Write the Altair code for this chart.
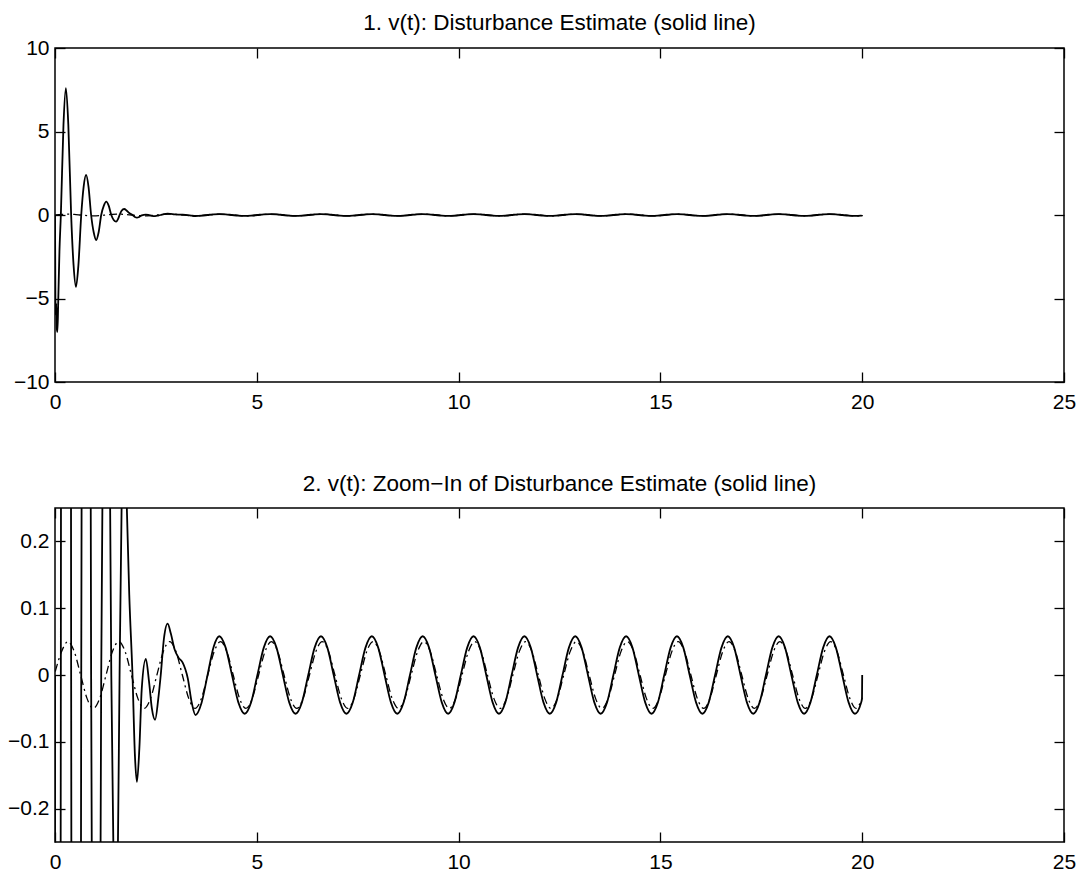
import altair as alt
import pandas as pd

# ---------------- data ----------------
top_title = "1. v(t): Disturbance Estimate (solid line)"
bottom_title = "2. v(t): Zoom\u2212In of Disturbance Estimate (solid line)"

x_ticks = [0, 5, 10, 15, 20, 25]
top_y_ticks = [-10, -5, 0, 5, 10]
bottom_y_ticks = [-0.2, -0.1, 0, 0.1, 0.2]
top_y_domain = [-10, 10]
bottom_y_domain = [-0.25, 0.25]
x_domain = [0, 25]

# solid line: disturbance estimate v(t)
solid_t = [
    0.000, 0.010, 0.020, 0.030, 0.045, 0.060, 0.080, 0.110, 0.145,
    0.210, 0.270, 0.330, 0.400, 0.460, 0.520, 0.580, 0.650,
    0.710, 0.770, 0.830, 0.895, 0.960, 1.020, 1.080, 1.145,
    1.210, 1.270, 1.330, 1.395, 1.455, 1.515, 1.560, 1.600,
    1.650, 1.715, 1.780, 1.840, 1.920, 1.980, 2.030, 2.090,
    2.150, 2.250, 2.330, 2.400, 2.480, 2.560, 2.620, 2.700,
    2.790, 2.870, 2.960, 3.060, 3.160, 3.290, 3.390, 3.480,
    3.630, 3.780, 3.930,
    4.070, 4.228, 4.385, 4.543, 4.700, 4.858, 5.015, 5.173,
    5.330, 5.488, 5.645, 5.803, 5.960, 6.118, 6.275, 6.433,
    6.590, 6.748, 6.905, 7.063, 7.220, 7.378, 7.535, 7.693,
    7.850, 8.008, 8.165, 8.323, 8.480, 8.638, 8.795, 8.953,
    9.110, 9.268, 9.425, 9.583, 9.740, 9.898, 10.055, 10.213,
    10.370, 10.528, 10.685, 10.843, 11.000, 11.158, 11.315, 11.473,
    11.630, 11.788, 11.945, 12.103, 12.260, 12.418, 12.575, 12.733,
    12.890, 13.048, 13.205, 13.363, 13.520, 13.678, 13.835, 13.993,
    14.150, 14.308, 14.465, 14.623, 14.780, 14.938, 15.095, 15.253,
    15.410, 15.568, 15.725, 15.883, 16.040, 16.198, 16.355, 16.513,
    16.670, 16.828, 16.985, 17.143, 17.300, 17.458, 17.615, 17.773,
    17.930, 18.088, 18.245, 18.403, 18.560, 18.718, 18.875, 19.033,
    19.190, 19.348, 19.505, 19.663, 19.820, 19.970, 19.995, 20.000,
]
solid_v = [
    0.0, -5.0, -6.0, -5.3, -6.8, -7.0, -5.2, -2.2, 0.0,
    5.4, 7.6, 5.4, 0.0, -3.0, -4.3, -3.0, 0.0,
    1.7, 2.4, 1.7, 0.0, -1.05, -1.5, -1.05, 0.0,
    0.56, 0.8, 0.56, 0.0, -0.30, -0.40, -0.25, 0.0,
    0.25, 0.36, 0.25, 0.12, 0.0, -0.12, -0.16, -0.11,
    -0.02, 0.024, -0.01, -0.05, -0.067, -0.035, 0.0, 0.055,
    0.077, 0.062, 0.039, 0.026, 0.019, -0.005, -0.042, -0.060,
    -0.042, 0.0, 0.042,
    0.058, 0.041, 0.0, -0.041, -0.058, -0.041, 0.0, 0.041,
    0.058, 0.041, 0.0, -0.041, -0.058, -0.041, 0.0, 0.041,
    0.058, 0.041, 0.0, -0.041, -0.058, -0.041, 0.0, 0.041,
    0.058, 0.041, 0.0, -0.041, -0.058, -0.041, 0.0, 0.041,
    0.058, 0.041, 0.0, -0.041, -0.058, -0.041, 0.0, 0.041,
    0.058, 0.041, 0.0, -0.041, -0.058, -0.041, 0.0, 0.041,
    0.058, 0.041, 0.0, -0.041, -0.058, -0.041, 0.0, 0.041,
    0.058, 0.041, 0.0, -0.041, -0.058, -0.041, 0.0, 0.041,
    0.058, 0.041, 0.0, -0.041, -0.058, -0.041, 0.0, 0.041,
    0.058, 0.041, 0.0, -0.041, -0.058, -0.041, 0.0, 0.041,
    0.058, 0.041, 0.0, -0.041, -0.058, -0.041, 0.0, 0.041,
    0.058, 0.041, 0.0, -0.041, -0.058, -0.041, 0.0, 0.041,
    0.058, 0.041, 0.0, -0.041, -0.058, -0.042, -0.035, 0.0,
]

# dash-dot line: actual disturbance
dash_t = [
    0.005, 0.163, 0.320, 0.478, 0.635, 0.793, 0.950, 1.108,
    1.265, 1.423, 1.580, 1.738, 1.895, 2.053, 2.210, 2.368,
    2.525, 2.683, 2.840, 2.998, 3.155, 3.313, 3.470, 3.628,
    3.785, 3.943, 4.100, 4.258, 4.415, 4.573, 4.730, 4.888,
    5.045, 5.203, 5.360, 5.518, 5.675, 5.833, 5.990, 6.148,
    6.305, 6.463, 6.620, 6.778, 6.935, 7.093, 7.250, 7.408,
    7.565, 7.723, 7.880, 8.038, 8.195, 8.353, 8.510, 8.668,
    8.825, 8.983, 9.140, 9.298, 9.455, 9.613, 9.770, 9.928,
    10.085, 10.243, 10.400, 10.558, 10.715, 10.873, 11.030, 11.188,
    11.345, 11.503, 11.660, 11.818, 11.975, 12.133, 12.290, 12.448,
    12.605, 12.763, 12.920, 13.078, 13.235, 13.393, 13.550, 13.708,
    13.865, 14.023, 14.180, 14.338, 14.495, 14.653, 14.810, 14.968,
    15.125, 15.283, 15.440, 15.598, 15.755, 15.913, 16.070, 16.228,
    16.385, 16.543, 16.700, 16.858, 17.015, 17.173, 17.330, 17.488,
    17.645, 17.803, 17.960, 18.118, 18.275, 18.433, 18.590, 18.748,
    18.905, 19.063, 19.220, 19.378, 19.535, 19.693, 19.850, 20.000,
]
dash_v = [
    0.005, 0.035, 0.050, 0.035, 0.0, -0.035, -0.050, -0.035,
    0.0, 0.035, 0.050, 0.035, 0.0, -0.035, -0.050, -0.035,
    0.0, 0.035, 0.050, 0.035, 0.0, -0.035, -0.050, -0.035,
    0.0, 0.035, 0.050, 0.035, 0.0, -0.035, -0.050, -0.035,
    0.0, 0.035, 0.050, 0.035, 0.0, -0.035, -0.050, -0.035,
    0.0, 0.035, 0.050, 0.035, 0.0, -0.035, -0.050, -0.035,
    0.0, 0.035, 0.050, 0.035, 0.0, -0.035, -0.050, -0.035,
    0.0, 0.035, 0.050, 0.035, 0.0, -0.035, -0.050, -0.035,
    0.0, 0.035, 0.050, 0.035, 0.0, -0.035, -0.050, -0.035,
    0.0, 0.035, 0.050, 0.035, 0.0, -0.035, -0.050, -0.035,
    0.0, 0.035, 0.050, 0.035, 0.0, -0.035, -0.050, -0.035,
    0.0, 0.035, 0.050, 0.035, 0.0, -0.035, -0.050, -0.035,
    0.0, 0.035, 0.050, 0.035, 0.0, -0.035, -0.050, -0.035,
    0.0, 0.035, 0.050, 0.035, 0.0, -0.035, -0.050, -0.035,
    0.0, 0.035, 0.050, 0.035, 0.0, -0.035, -0.050, -0.035,
    0.0, 0.035, 0.050, 0.035, 0.0, -0.035, -0.050, -0.034,
]

solid_df = pd.DataFrame({"t": solid_t, "v": solid_v})
dash_df = pd.DataFrame({"t": dash_t, "v": dash_v})

FONT = "Liberation Sans"
FS = 21
TITLE_FS = 22.5
PLOT_W = 1009
PLOT_H = 334
TICK = 10


def panel(title, ydom, yticks, yfmt, title_offset):
    xs = alt.Scale(domain=x_domain, nice=False, zero=False)
    ys = alt.Scale(domain=ydom, nice=False, zero=False)

    label_x = alt.Axis(values=x_ticks, orient="bottom", ticks=False, tickSize=0,
                       domain=False, grid=False, labelPadding=9, labelFontSize=FS,
                       labelFont=FONT, labelColor="black", labelFlush=False,
                       labelOverlap=False, title=None, format="d", minExtent=0)
    label_y = alt.Axis(values=yticks, orient="left", ticks=False, tickSize=0,
                       domain=False, grid=False, labelPadding=6, labelFontSize=FS,
                       labelFont=FONT, labelColor="black", labelFlush=False,
                       labelOverlap=False, title=None, format=yfmt, minExtent=0)
    tick_common = dict(labels=False, domain=False, grid=False, tickSize=TICK,
                       offset=-TICK, tickColor="black", tickWidth=1.3, title=None,
                       minExtent=0, maxExtent=0)

    solid = alt.Chart(solid_df).mark_line(
        color="black", strokeWidth=1.8, interpolate="monotone", clip=True
    ).encode(
        x=alt.X("t:Q", scale=xs, axis=label_x),
        y=alt.Y("v:Q", scale=ys, axis=label_y),
    )
    dashed = alt.Chart(dash_df).mark_line(
        color="black", strokeWidth=1.3, strokeDash=[8, 4, 2, 4],
        interpolate="monotone", clip=True
    ).encode(
        x=alt.X("t:Q", scale=xs, axis=alt.Axis(values=x_ticks, orient="bottom", **tick_common)),
        y=alt.Y("v:Q", scale=ys, axis=alt.Axis(values=yticks, orient="left", **tick_common)),
    )
    frame = alt.Chart(dash_df).mark_line(strokeOpacity=0, clip=True).encode(
        x=alt.X("t:Q", scale=xs, axis=alt.Axis(values=x_ticks, orient="top", **tick_common)),
        y=alt.Y("v:Q", scale=ys, axis=alt.Axis(values=yticks, orient="right", **tick_common)),
    )
    return alt.layer(solid, dashed, frame).resolve_axis(
        x="independent", y="independent"
    ).properties(
        width=PLOT_W, height=PLOT_H,
        title=alt.TitleParams(title, font=FONT, fontSize=TITLE_FS, fontWeight="normal",
                              color="black", anchor="middle", frame="group",
                              baseline="alphabetic", offset=title_offset),
    )


top = panel(top_title, top_y_domain, top_y_ticks, "d", -15)
bottom = panel(bottom_title, bottom_y_domain, bottom_y_ticks, ".1~f", -6)

chart = alt.vconcat(top, bottom, spacing=59).properties(
    padding={"left": 6, "top": 10, "right": 5, "bottom": 5},
    background="white",
).configure_view(stroke="black", strokeWidth=1.5)

chart.save("out.html", embed_options={"renderer": "svg", "actions": False})
